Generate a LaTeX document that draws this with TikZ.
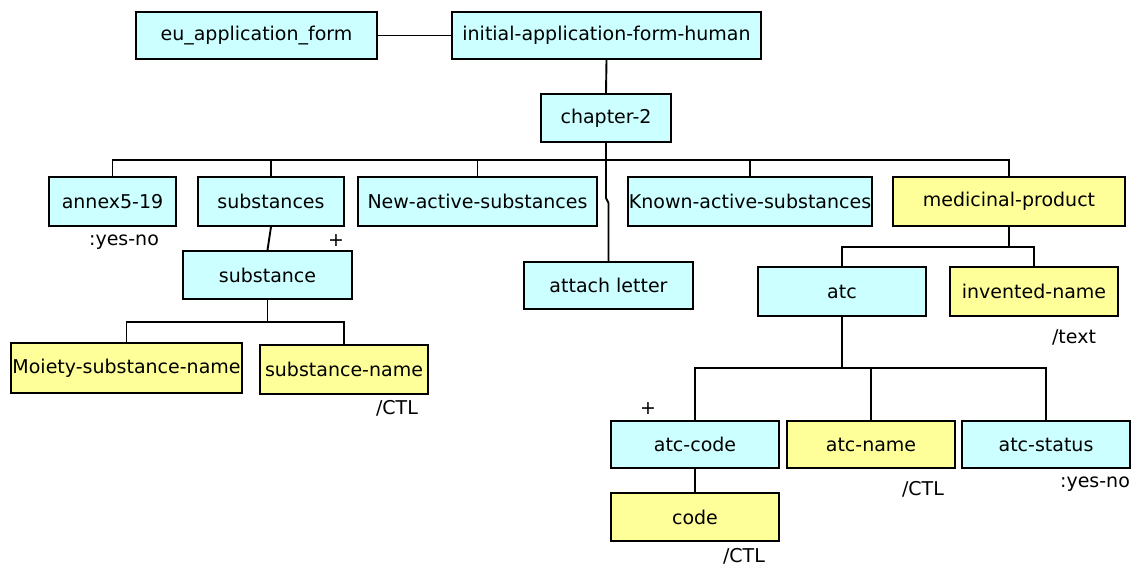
\documentclass[tikz,border=0pt]{standalone}
\usepackage{fontspec}
\setmainfont{DejaVu Sans}
\definecolor{cyanfill}{HTML}{CCFFFF}
\definecolor{yellowfill}{HTML}{FFFF99}
\tikzset{
  box/.style={draw=black, line width=1.8pt, rectangle, inner sep=0pt,
    font=\fontsize{19}{22}\selectfont, text=black},
  cbox/.style={box, fill=cyanfill},
  ybox/.style={box, fill=yellowfill},
  lbl/.style={inner sep=0pt, font=\fontsize{19}{22}\selectfont, text=black},
  conn/.style={line width=1.9pt, draw=black}
}
\begin{document}
\begin{tikzpicture}[x=1pt,y=-1pt]
\useasboundingbox (0,0) rectangle (1140,571);
% level 0
\node[cbox, minimum width=241pt, minimum height=47pt] (eu) at (256.5,35.5) {eu\_application\_form};
\node[cbox, minimum width=309pt, minimum height=47pt] (init) at (606.5,35.5) {initial-application-form-human};
\node[cbox, minimum width=130pt, minimum height=48pt] (ch2) at (606,118) {chapter-2};
% level 2
\node[cbox, minimum width=127pt, minimum height=49pt] (annex) at (112.5,201.5) {annex5-19};
\node[cbox, minimum width=146pt, minimum height=49pt] (substances) at (271,201.5) {substances};
\node[cbox, minimum width=239pt, minimum height=49pt] (newact) at (477.5,201.5) {New-active-substances};
\node[cbox, minimum width=244pt, minimum height=49pt] (known) at (750,201.5) {Known-active-substances};
\node[ybox, minimum width=232pt, minimum height=49pt] (medicinal) at (1009,201.5) {medicinal-product};
\node[cbox, minimum width=169pt, minimum height=47pt] (attach) at (608.5,285.5) {attach letter};
% substances subtree
\node[cbox, minimum width=169pt, minimum height=48pt] (substance) at (267.5,275) {substance};
\node[ybox, minimum width=231pt, minimum height=50pt] (moiety) at (126.5,368) {Moiety-substance-name};
\node[ybox, minimum width=168pt, minimum height=49pt] (subname) at (344,369.5) {substance-name};
% medicinal subtree
\node[cbox, minimum width=168pt, minimum height=49pt] (atc) at (842,291.5) {atc};
\node[ybox, minimum width=168pt, minimum height=49pt] (invented) at (1034,291.5) {invented-name};
\node[cbox, minimum width=168pt, minimum height=47pt] (atccode) at (695,444.5) {atc-code};
\node[ybox, minimum width=168pt, minimum height=47pt] (atcname) at (871,444.5) {atc-name};
\node[cbox, minimum width=168pt, minimum height=47pt] (atcstatus) at (1046,444.5) {atc-status};
\node[ybox, minimum width=168pt, minimum height=48pt] (code) at (695,517) {code};
% labels
\node[lbl] (l1) at (124,242) {:yes-no};
\node[lbl] (p1) at (336,241) {+};
\node[lbl] (l2) at (397,408) {/CTL};
\node[lbl] (l3) at (1074,337) {/text};
\node[lbl] (p2) at (648,409) {+};
\node[lbl] (l4) at (923,489) {/CTL};
\node[lbl] (l5) at (1095,484) {:yes-no};
\node[lbl] (l6) at (744,556) {/CTL};
% connectors
\coordinate (bus) at (606,160);
\coordinate (j1) at (606,198);
\coordinate (sbus) at (267.5,322);
\coordinate (mbus) at (1009,247);
\coordinate (abus) at (842,368);
\begin{scope}[conn]
\draw (eu.east) -- (init.west);
\draw (init.south) -- (ch2.north);
\draw (ch2.south) -- (bus);
\draw (annex.north) -- (annex.north |- bus) -- (medicinal.north |- bus) -- (medicinal.north);
\draw (substances.north) -- (substances.north |- bus);
\draw (newact.north) -- (newact.north |- bus);
\draw (known.north) -- (known.north |- bus);
\draw (bus) -- (j1) -- ([yshift=-5pt]attach.north |- j1) -- (attach.north);
\draw (substances.south) -- (substance.north);
\draw (substance.south) -- (sbus);
\draw (moiety.north) -- (moiety.north |- sbus) -- (subname.north |- sbus) -- (subname.north);
\draw (medicinal.south) -- (mbus);
\draw (atc.north) -- (atc.north |- mbus) -- (invented.north |- mbus) -- (invented.north);
\draw (atc.south) -- (abus);
\draw (atccode.north) -- (atccode.north |- abus) -- (atcstatus.north |- abus) -- (atcstatus.north);
\draw (atcname.north) -- (atcname.north |- abus);
\draw (atccode.south) -- (code.north);
\end{scope}
\end{tikzpicture}
\end{document}
